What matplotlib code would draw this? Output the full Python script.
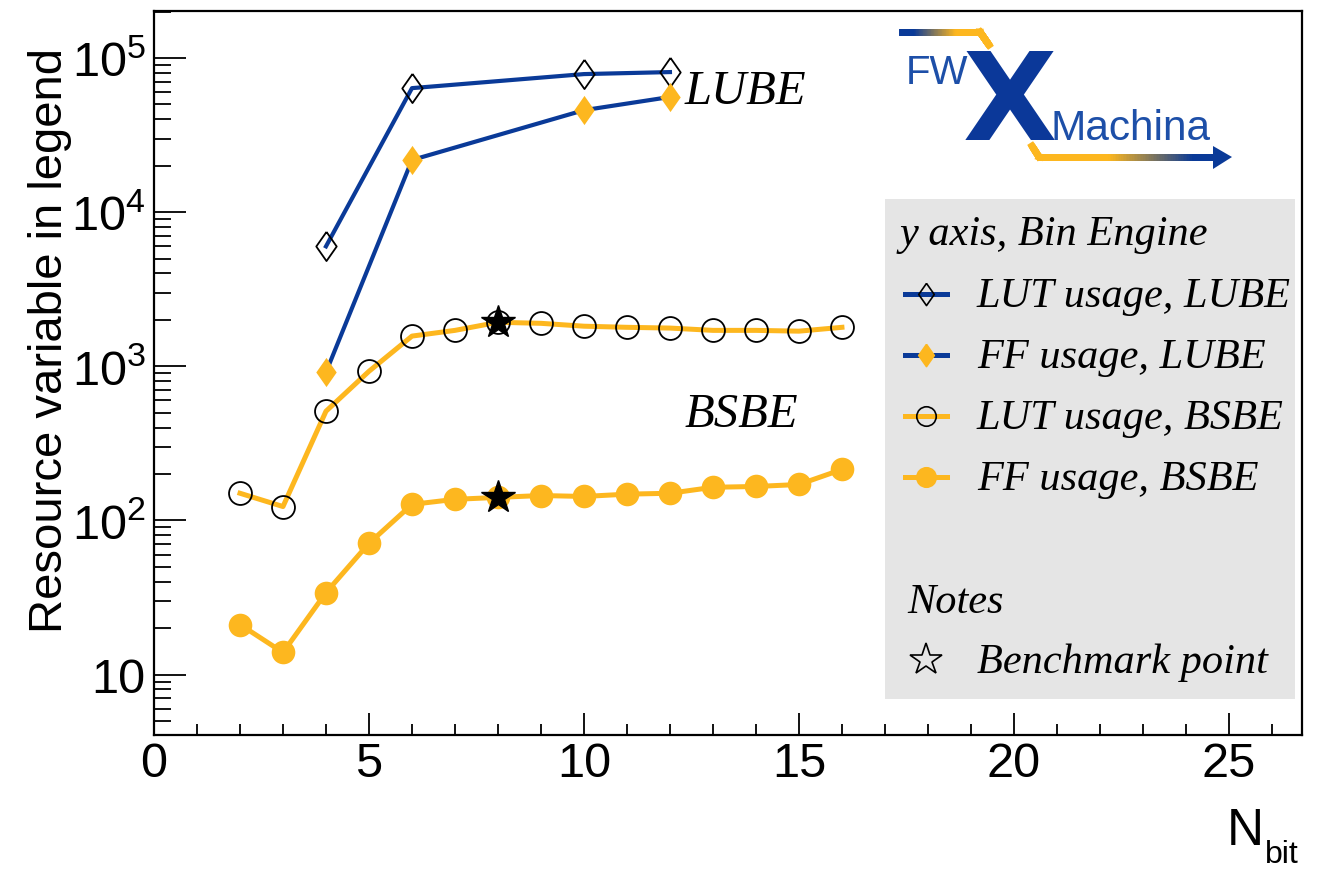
import numpy as np
import matplotlib
matplotlib.use("Agg")
import matplotlib.pyplot as plt
from matplotlib.ticker import MultipleLocator, LogLocator, FuncFormatter, NullFormatter
from matplotlib.collections import LineCollection
from matplotlib.patches import Rectangle, Polygon
from matplotlib.colors import to_rgb

# values
nbit_lube = [4, 6, 10, 12]
lut_lube = [6000, 63800, 78700, 81100]
ff_lube = [914, 21800, 45900, 55900]

nbit_bsbe = [2, 3, 4, 5, 6, 7, 8, 9, 10, 11, 12, 13, 14, 15, 16]
lut_bsbe = [150, 123, 511, 928, 1570, 1710, 1930, 1900, 1820, 1790, 1770, 1710, 1710, 1690, 1790]
ff_bsbe = [21.1, 13.9, 34.0, 71.0, 127, 137, 141, 145, 143, 148, 150, 164, 166, 171, 214]

bench_x = [8, 8]
bench_y = [1930, 141]

xticks = [0, 5, 10, 15, 20, 25]

BLUE = "#0a3a98"
ORANGE = "#fdb71f"
LOGO_BLUE = "#1d4fa8"
GRAY = "#e5e5e5"

SANS = ["Liberation Sans", "DejaVu Sans"]
SERIF = ["Liberation Serif", "DejaVu Serif"]

plt.rcParams["mathtext.fontset"] = "custom"
plt.rcParams["mathtext.rm"] = "Liberation Sans"
plt.rcParams["mathtext.it"] = "Liberation Sans"

W, H = 1320, 870
fig = plt.figure(figsize=(W / 100, H / 100), dpi=100)
ax = fig.add_axes([154 / W, 1 - 736 / H, (1302 - 154) / W, (736 - 12) / H])

# ROOT-like thin diamond
diam = [(0, 1), (0.7, 0), (0, -1), (-0.7, 0), (0, 1)]

ax.plot(nbit_lube, lut_lube, "-", color=BLUE, lw=3.0, zorder=2)
ax.plot(nbit_lube, lut_lube, ls="none", marker=diam, ms=21, mfc="none",
        mec="black", mew=1.3, zorder=5)
ax.plot(nbit_lube, ff_lube, "-", color=BLUE, lw=3.0, zorder=2)
ax.plot(nbit_lube, ff_lube, ls="none", marker=diam, ms=21, mfc=ORANGE,
        mec=ORANGE, mew=0, zorder=5)

ax.plot(nbit_bsbe, lut_bsbe, "-", color=ORANGE, lw=3.6, zorder=2)
ax.plot(nbit_bsbe, lut_bsbe, ls="none", marker="o", ms=16.5, mfc="none",
        mec="black", mew=1.3, zorder=5)
ax.plot(nbit_bsbe, ff_bsbe, "-", color=ORANGE, lw=3.6, zorder=2)
ax.plot(nbit_bsbe, ff_bsbe, ls="none", marker="o", ms=17, mfc=ORANGE,
        mec=ORANGE, mew=0, zorder=3)

ax.plot(bench_x, bench_y, ls="none", marker="*", ms=25, color="black", zorder=4)

ax.set_yscale("log")
ax.set_xlim(0, 26.7)
ax.set_ylim(4.05, 2.02e5)

ax.xaxis.set_minor_locator(MultipleLocator(1))
ax.set_xticks(xticks)
ax.set_xticklabels([str(t) for t in xticks], fontfamily=SANS, fontsize=35)
ax.yaxis.set_major_locator(LogLocator(base=10, numticks=10))
ax.yaxis.set_minor_locator(LogLocator(base=10, subs=np.arange(2, 10), numticks=20))
ax.yaxis.set_minor_formatter(NullFormatter())


def ylab(v, pos):
    e = int(round(np.log10(v)))
    if e == 1:
        return "10"
    return r"$\mathregular{10^{%d}}$" % e


ax.yaxis.set_major_formatter(FuncFormatter(ylab))
for t in ax.get_yticklabels():
    t.set_fontfamily(SANS)
    t.set_fontsize(35)

ax.tick_params(axis="x", which="major", direction="in", length=16, width=1.3, pad=4)
ax.tick_params(axis="x", which="minor", direction="in", length=8, width=1.3)
ax.tick_params(axis="y", which="major", direction="in", length=23, width=1.3, pad=6)
ax.tick_params(axis="y", which="minor", direction="in", length=12, width=1.3)
ax.tick_params(top=False, right=False, which="both")
for s in ax.spines.values():
    s.set_linewidth(1.6)

# axis titles
fig.text(50 / W, 1 - 48 / H, "Resource variable in legend", rotation=90,
         ha="center", va="top", fontsize=34, fontfamily=SANS)
fig.text(1264 / W, 1 - 845 / H, "N", ha="right", va="baseline",
         fontsize=37, fontfamily=SANS)
fig.text(1265 / W, 1 - 863 / H, "bit", ha="left", va="baseline",
         fontsize=23, fontfamily=SANS)

# overlay in pixel coordinates for labels, legend and logo
ov = fig.add_axes([0, 0, 1, 1], zorder=10)
ov.set_xlim(0, W)
ov.set_ylim(H, 0)
ov.axis("off")
ov.patch.set_alpha(0)

ov.text(685, 104, "LUBE", fontsize=35, fontfamily=SERIF, style="italic", va="baseline")
ov.text(685, 427, "BSBE", fontsize=35, fontfamily=SERIF, style="italic", va="baseline")

# legend box
ov.add_patch(Rectangle((885, 200), 410, 500, facecolor=GRAY, edgecolor="none"))
ov.text(900, 245, "y axis, Bin Engine", fontsize=30.5, fontfamily=SERIF,
        style="italic", va="baseline")
rows = [
    ("LUT usage, LUBE", BLUE, diam, "none", "black", 16, 307),
    ("FF usage, LUBE", BLUE, diam, ORANGE, ORANGE, 16, 368),
    ("LUT usage, BSBE", ORANGE, "o", "none", "black", 14, 429),
    ("FF usage, BSBE", ORANGE, "o", ORANGE, ORANGE, 14, 490),
]
for lab, lc, mk, fc, ec, ms, yb in rows:
    yc = yb - 12
    ov.plot([905, 947], [yc, yc], color=lc, lw=3.6)
    ov.plot([926], [yc], marker=mk, ms=ms, mfc=fc, mec=ec, mew=1.2, ls="none")
    ov.text(977, yb, lab, fontsize=30.5, fontfamily=SERIF, style="italic", va="baseline")
ov.text(907, 613, "Notes", fontsize=30.5, fontfamily=SERIF, style="italic", va="baseline")
ov.plot([926], [661], marker="*", ms=24, mfc="none", mec="black", mew=1.2, ls="none")
ov.text(977, 673, "Benchmark point", fontsize=30.5, fontfamily=SERIF,
        style="italic", va="baseline")


# logo
def grad_line(pts, c1, c2, t0, t1, lw):
    pts = np.array(pts, dtype=float)
    seg_len = np.hypot(*np.diff(pts, axis=0).T)
    cum = np.concatenate([[0], np.cumsum(seg_len)])
    s = np.linspace(0, cum[-1], 120)
    xs = np.interp(s, cum, pts[:, 0])
    ys = np.interp(s, cum, pts[:, 1])
    segs = np.stack([np.column_stack([xs[:-1], ys[:-1]]),
                     np.column_stack([xs[1:], ys[1:]])], axis=1)
    f = np.clip((s[:-1] / cum[-1] - t0) / (t1 - t0), 0, 1)[:, None]
    cols = (1 - f) * np.array(to_rgb(c1)) + f * np.array(to_rgb(c2))
    ov.add_collection(LineCollection(segs, colors=cols, linewidths=lw,
                                     capstyle="projecting", joinstyle="miter"))


grad_line([(902, 33), (980, 33), (989, 46)], BLUE, ORANGE, 0.15, 0.6, 5)
grad_line([(1032, 147), (1039, 158), (1214, 158)], ORANGE, BLUE, 0.45, 0.9, 5)
ov.add_patch(Polygon([(1213, 147), (1232, 158), (1213, 170)], closed=True,
                     facecolor=BLUE, edgecolor="none"))
ov.text(906, 84, "FW", fontsize=29, fontfamily=SANS, color=LOGO_BLUE, va="baseline")
ov.text(963, 140, "X", fontsize=88, fontfamily=["DejaVu Sans"], fontweight="bold",
        color="#0b3899", va="baseline")
ov.text(1051, 140, "Machina", fontsize=30.5, fontfamily=SANS, color=LOGO_BLUE, va="baseline")

fig.savefig("out.png", dpi=100)
